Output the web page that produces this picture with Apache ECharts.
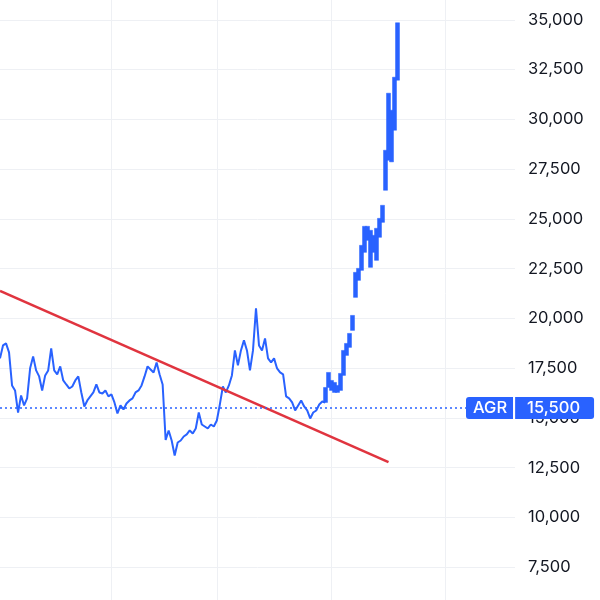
<!DOCTYPE html>
<html>
<head>
<meta charset="utf-8">
<script src="https://cdn.jsdelivr.net/npm/echarts@6/dist/echarts.min.js"></script>
<style>
html,body{margin:0;padding:0;background:#fff;width:600px;height:600px;overflow:hidden;position:relative}
#c{position:absolute;left:0;top:-30px;width:600px;height:647px}
</style>
</head>
<body>
<div id="c"></div>
<script>
// ---- data ----
const dayCount = 172;                       // slots on the time axis
const monthGridDays = [37, 72, 110, 148];    // vertical grid lines (period starts)
const yTicks = [7500, 10000, 12500, 15000, 17500, 20000, 22500, 25000, 27500, 30000, 32500, 35000];
// daily closes, day 0 .. 108
const closeEarly = [
  17990,18643,18745,18290,16632,16380,15270,16130,15627,15980,
  17490,18090,17386,17085,16381,17135,17386,18490,17386,17185,
  17590,16883,16680,16480,16580,16883,17085,16280,15577,15878,
  16080,16280,16680,16280,16230,16381,16080,16180,15777,15224,
  15627,15425,15727,15878,15980,16280,16381,16632,17085,17590,
  17436,17285,17788,17185,16680,13900,14370,13867,13113,13767,
  13867,14068,14170,14370,14220,14470,15270,14670,14570,14470,
  14670,14570,14873,15677,16580,16280,16632,17135,18391,17637,
  18391,18894,18391,17386,18391,20500,18643,18391,18995,17990,
  17788,17990,17486,17285,17185,16080,15980,15777,15375,15627,
  15878,15577,15375,14973,15270,15375,15677,15827,15777
];
const lateStartDay = 108;
// daily low / high, day 108 .. 132
const lowLate  = [15777,16530,16381,16280,16280,16381,17135,18140,18543,19397,21056,21910,22413,23318,23921,22564,23318,22916,24073,24825,26435,27943,27862,29451,31964];
const highLate = [16530,17285,16883,16783,16632,17235,18391,18743,19246,20150,22313,22513,23670,24625,24625,24424,24173,24525,25026,25680,28445,31311,30456,32115,34850];
// trend line endpoints [day, price]
const trendStart = [0, 21380];
const trendEnd = [129, 12780];
const tickerName = 'AGR';
const lastPrice = 15500;

// ---- build ----
const days = Array.from({length: dayCount}, (_, i) => String(i));
const candleData = days.map((_, i) => {
  const k = i - lateStartDay;
  if (k < 0 || k >= lowLate.length) return '-';
  return [lowLate[k], highLate[k], lowLate[k], highLate[k]];
});
const BLUE = '#2962ff';
const chart = echarts.init(document.getElementById('c'), null, {renderer: 'canvas'});
chart.setOption({
  animation: false,
  backgroundColor: '#ffffff',
  grid: {left: 0, right: 85, top: 0, bottom: 0, containLabel: false},
  xAxis: {
    type: 'category', data: days, boundaryGap: false,
    axisLine: {show: false}, axisTick: {show: false}, axisLabel: {show: false},
    splitLine: {show: true, interval: (idx) => monthGridDays.includes(idx),
      lineStyle: {color: '#eef0f4', width: 1}}
  },
  yAxis: {
    type: 'value', position: 'right', min: 5000, max: 37500, interval: 2500,
    axisLine: {show: false}, axisTick: {show: false},
    axisLabel: {
      margin: 13, color: '#131722', fontFamily: 'Inter', fontSize: 16.5,
      showMinLabel: false, showMaxLabel: false,
      formatter: (v) => yTicks.includes(v) ? v.toLocaleString('en-US') : ''
    },
    splitLine: {lineStyle: {color: '#eef0f4', width: 1}}
  },
  series: [
    {
      type: 'line', data: closeEarly, symbol: 'none', z: 3,
      lineStyle: {color: BLUE, width: 2},
      markLine: {
        silent: true, symbol: ['none', 'none'], z: 10,
        lineStyle: {color: BLUE, type: [2, 3], width: 1.5},
        data: [{yAxis: lastPrice}],
        label: {
          show: true, position: 'end', distance: -49,
          formatter: '{a|' + tickerName + '}{s|}{b|' + lastPrice.toLocaleString('en-US') + '}',
          rich: {
            a: {backgroundColor: BLUE, color: '#fff', fontFamily: 'Inter', fontSize: 16.5, fontWeight: 500,
                padding: [3, 6, 2, 7], borderRadius: [3, 0, 0, 3], height: 17, lineHeight: 17},
            s: {backgroundColor: '#fff', width: 2, height: 22},
            b: {backgroundColor: BLUE, color: '#fff', fontFamily: 'Inter', fontSize: 16.5, fontWeight: 500,
                padding: [3, 14, 2, 12], borderRadius: [0, 3, 3, 0], height: 17, lineHeight: 17}
          }
        }
      }
    },
    {
      type: 'candlestick', data: candleData, barWidth: 5, z: 3,
      itemStyle: {color: BLUE, color0: BLUE, borderColor: BLUE, borderColor0: BLUE, borderWidth: 0.5}
    },
    {
      type: 'line', data: [trendStart, trendEnd], symbol: 'none', z: 4,
      lineStyle: {color: '#e0343f', width: 2.6}
    }
  ]
});
</script>
</body>
</html>
